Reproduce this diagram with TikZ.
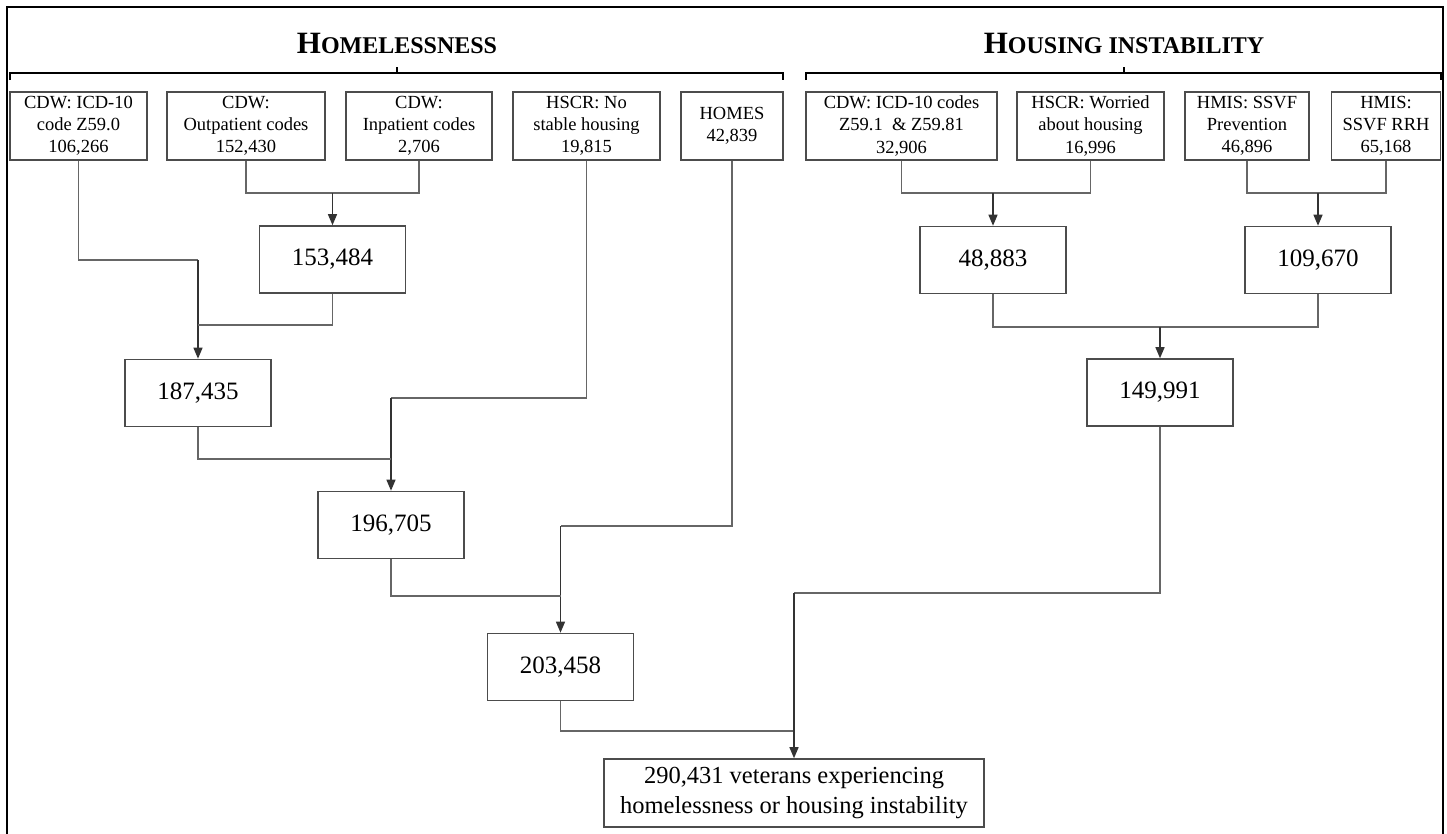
\documentclass[tikz,border=0pt]{standalone}
\usepackage{fontspec}
\setmainfont{Liberation Serif}
\usetikzlibrary{arrows.meta}
\begin{document}
\begin{tikzpicture}[x=1pt,y=-1pt,
  topbox/.style={draw=black!70,line width=1.6pt,inner sep=0pt,align=center,minimum height=68pt,
     font=\fontsize{18.5}{22}\selectfont},
  numbox/.style={draw=black!70,line width=1.6pt,inner sep=0pt,minimum width=146pt,minimum height=67pt,
     font=\fontsize{25}{29}\selectfont},
  finbox/.style={draw=black!70,line width=1.6pt,inner sep=0pt,align=center,minimum width=380pt,minimum height=68pt,
     font=\fontsize{24.5}{30}\selectfont},
  conn/.style={draw=black!60,line width=1.3pt},
  arr/.style={draw=black!80,line width=1.3pt,-{Triangle[length=11pt,width=9pt]}},
  brace/.style={draw=black,line width=1.4pt},
  title/.style={anchor=base,inner sep=0pt,font=\bfseries}
]
\useasboundingbox (0,0) rectangle (1447,833);
% frame
\draw[line width=1.4pt] (7,840) -- (7,7) -- (1443,7) -- (1443,840);

% titles
\node[title] (t1) at (397,53) {\fontsize{31}{31}\selectfont H\fontsize{24}{24}\selectfont OMELESSNESS};
\node[title] (t2) at (1124,53) {\fontsize{31}{31}\selectfont H\fontsize{24}{24}\selectfont OUSING INSTABILITY};

% brackets
\draw[brace] (10,80) -- (10,73) -- (783,73) -- (783,80);
\draw[brace] (397,73) -- (397,67);
\draw[brace] (806,80) -- (806,73) -- (1441,73) -- (1441,80);
\draw[brace] (1124,73) -- (1124,67);

% top boxes
\node[topbox,minimum width=137pt] (b1) at (78.5,126) {CDW: ICD-10\\code Z59.0\\106,266};
\node[topbox,minimum width=158pt] (b2) at (246,126) {CDW:\\Outpatient codes\\152,430};
\node[topbox,minimum width=146pt] (b3) at (419,126) {CDW:\\Inpatient codes\\2,706};
\node[topbox,minimum width=147pt] (b4) at (586.5,126) {HSCR: No\\stable housing\\19,815};
\node[topbox,minimum width=102pt] (b5) at (732,126) {HOMES\\42,839};
\node[topbox,minimum width=191pt] (b6) at (901.5,126) {CDW: ICD-10 codes\\Z59.1 \ \& Z59.81\\32,906};
\node[topbox,minimum width=147pt] (b7) at (1090.5,126) {HSCR: Worried\\about housing\\16,996};
\node[topbox,minimum width=124pt] (b8) at (1247,126) {HMIS: SSVF\\Prevention\\46,896};
\node[topbox,minimum width=109pt] (b9) at (1386,126) {HMIS:\\SSVF RRH\\65,168};

% intermediate boxes
\node[numbox] (n153) at (332.5,259.5) {153,484};
\node[numbox] (n187) at (198,393) {187,435};
\node[numbox] (n196) at (391,525) {196,705};
\node[numbox] (n203) at (560.5,667) {203,458};
\node[numbox] (n48) at (993,260) {48,883};
\node[numbox] (n109) at (1318,260) {109,670};
\node[numbox] (n149) at (1160,392.5) {149,991};
\node[finbox] (fin) at (794,793) {290,431 veterans experiencing\\homelessness or housing instability};

% junction coordinates
\coordinate (j1) at (332.5,193);
\coordinate (k1) at (198,260);
\coordinate (k2) at (198,325);
\coordinate (k3) at (391,398);
\coordinate (k4) at (391,459);
\coordinate (k5) at (560.5,526);
\coordinate (k6) at (560.5,596);
\coordinate (k7) at (794,593);
\coordinate (k8) at (794,731);
\coordinate (r1) at (993,193);
\coordinate (r2) at (1318,193);
\coordinate (r3) at (1160,327);

% homelessness connectors
\draw[conn] (b2.south) |- (j1);
\draw[conn] (b3.south) |- (j1);
\draw[arr] (j1) -- (n153.north);

\draw[conn] (b1.south) |- (k1);
\draw[arr] (k1) -- (n187.north);
\draw[conn] (n153.south) |- (k2);

\draw[conn] (b4.south) |- (k3);
\draw[arr] (k3) -- (n196.north);
\draw[conn] (n187.south) |- (k4);

\draw[conn] (b5.south) |- (k5);
\draw[arr] (k5) -- (n203.north);
\draw[conn] (n196.south) |- (k6);

\draw[conn] (n203.south) |- (k8);

% housing instability connectors
\draw[conn] (b6.south) |- (r1);
\draw[conn] (b7.south) |- (r1);
\draw[arr] (r1) -- (n48.north);

\draw[conn] (b8.south) |- (r2);
\draw[conn] (b9.south) |- (r2);
\draw[arr] (r2) -- (n109.north);

\draw[conn] (n48.south) |- (r3);
\draw[conn] (n109.south) |- (r3);
\draw[arr] (r3) -- (n149.north);

\draw[conn] (n149.south) |- (k7);
\draw[arr] (k7) -- (fin.north);
\end{tikzpicture}
\end{document}
